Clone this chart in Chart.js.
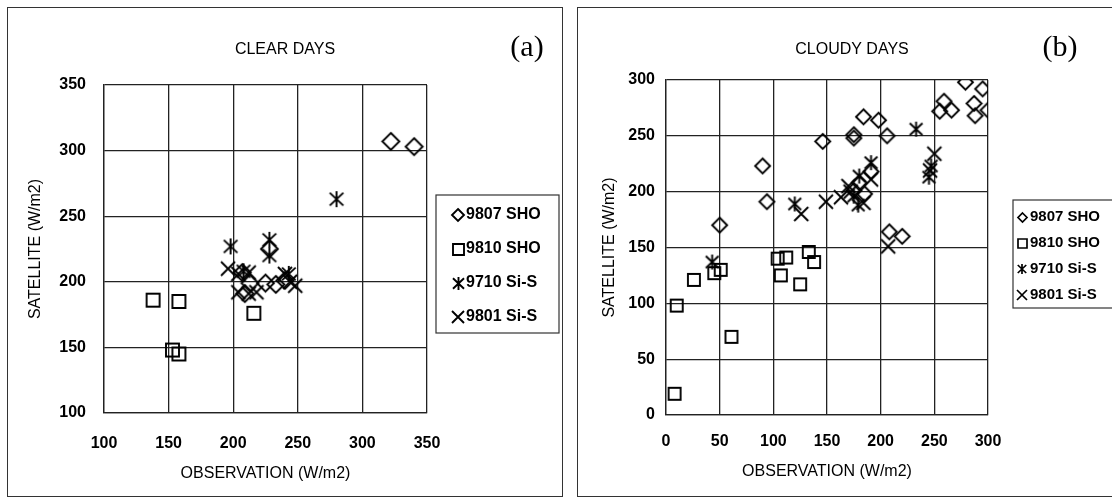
<!DOCTYPE html>
<html>
<head>
<meta charset="utf-8">
<script src="https://cdn.jsdelivr.net/npm/chart.js@4.4.1/dist/chart.umd.min.js"></script>
<style>
  html, body { margin: 0; padding: 0; background: #fff; width: 1112px; height: 499px; overflow: hidden; }
  .panel { position: absolute; top: 7px; height: 490px; border: 1px solid #333; box-sizing: border-box; }
  #panelA { left: 7px; width: 556px; }
  #panelB { left: 577px; width: 545px; }
  canvas { position: absolute; left: 0; top: 0; }
</style>
</head>
<body>
<div class="panel" id="panelA"><canvas id="chartA" width="554" height="488"></canvas></div>
<div class="panel" id="panelB"><canvas id="chartB" width="543" height="488"></canvas></div>
<script>
// Series names (legend)
const seriesNames = ['9807 SHO', '9810 SHO', '9710 Si-S', '9801 Si-S'];

// (a) clear days  [observation, satellite]
const clear9807 = [[322, 307], [340, 303], [228, 225], [207, 207], [209, 191], [213, 199], [225, 199], [233, 198], [240, 201]];
const clear9810 = [[138, 186], [158, 185], [153, 148], [158, 145], [216, 176]];
const clear9710 = [[198, 227], [228, 232], [228, 220], [280, 263], [243, 206], [208, 208]];
const clear9801 = [[196, 210], [204, 206], [212, 207], [204, 192], [212, 191], [218, 192], [240, 206], [244, 200], [248, 197]];
const clearTicks = [100, 150, 200, 250, 300, 350];

// (b) cloudy days
const cloudy9807 = [[279, 298], [295, 292], [300, 273], [287, 279], [288, 268], [259, 281], [255, 272], [266, 273],
  [198, 264], [184, 267], [175, 251], [175, 248], [206, 250], [146, 245], [90, 223], [94, 191], [50, 170],
  [208, 164], [220, 160], [191, 218], [185, 198], [175, 201], [180, 208]];
const cloudy9810 = [[8, 19], [10, 98], [26, 121], [45, 127], [51, 130], [61, 70], [104, 140], [112, 141],
  [107, 125], [133, 146], [138, 137], [125, 117]];
const cloudy9710 = [[43, 137], [120, 189], [233, 256], [245, 213], [247, 223], [191, 226], [180, 214], [179, 188], [175, 196]];
const cloudy9801 = [[126, 180], [149, 191], [163, 195], [250, 234], [246, 219], [170, 205], [184, 190], [191, 211], [207, 151], [172, 200]];
const cloudyTicks = [0, 50, 100, 150, 200, 250, 300];

const FONT = '"Liberation Sans", Arial, sans-serif';
const GRID = '#222';

// hollow marker drawn on a small canvas, used as pointStyle
function makeMark(type, size, lw) {
    const n = size + 4;
    const c = document.createElement('canvas');
    c.width = n; c.height = n;
    const g = c.getContext('2d');
    const m = n / 2, h = size / 2;
    g.strokeStyle = '#000';
    g.lineWidth = lw;
    g.beginPath();
    if (type === 'diamond') {
        g.moveTo(m, m - h); g.lineTo(m + h, m); g.lineTo(m, m + h); g.lineTo(m - h, m); g.closePath();
    } else if (type === 'square') {
        g.rect(m - h, m - h, size, size);
    } else if (type === 'x') {
        g.moveTo(m - h, m - h); g.lineTo(m + h, m + h);
        g.moveTo(m + h, m - h); g.lineTo(m - h, m + h);
    } else {
        g.moveTo(m, m - h); g.lineTo(m, m + h);
        g.moveTo(m - h * 0.85, m - h * 0.8); g.lineTo(m + h * 0.85, m + h * 0.8);
        g.moveTo(m + h * 0.85, m - h * 0.8); g.lineTo(m - h * 0.85, m + h * 0.8);
    }
    g.stroke();
    return c;
}

const markTypes = ['diamond', 'square', 'star', 'x'];

// title, (a)/(b) tag and boxed legend
const decorPlugin = {
    id: 'decor',
    afterDraw(chart, args, o) {
        const ctx = chart.ctx;
        ctx.save();
        ctx.fillStyle = '#000';
        ctx.textAlign = 'center';
        ctx.textBaseline = 'middle';
        ctx.font = '16px ' + FONT;
        ctx.fillText(o.title, o.titleX, o.titleY);
        ctx.font = '30px "Liberation Serif", "Times New Roman", serif';
        ctx.fillText(o.tag, o.tagX, o.tagY);

        ctx.strokeStyle = '#333';
        ctx.lineWidth = 1.2;
        ctx.strokeRect(o.box[0], o.box[1], o.box[2], o.box[3]);
        ctx.textAlign = 'left';
        ctx.font = 'bold ' + o.legendFont + 'px ' + FONT;
        seriesNames.forEach((name, i) => {
            const y = o.legendY + i * o.legendStep;
            const mk = o.marks[i];
            ctx.drawImage(mk, Math.round(o.markX - mk.width / 2), Math.round(y - mk.height / 2));
            ctx.fillText(name, o.textX, y);
        });
        ctx.restore();
    }
};

function axis(ticks, title, cfg, horizontal) {
    return {
        type: 'linear',
        position: horizontal ? 'bottom' : 'left',
        min: ticks[0],
        max: ticks[ticks.length - 1],
        afterBuildTicks: s => { s.ticks = ticks.map(v => ({ value: v })); },
        afterFit: s => { if (horizontal) s.height = cfg.size; else s.width = cfg.size; },
        ticks: { padding: cfg.tickPad, color: '#000', font: { family: FONT, size: 16, weight: 'bold' } },
        grid: { color: GRID, lineWidth: 1.3, drawTicks: false },
        border: { color: GRID, width: 1.3 },
        title: {
            display: true, text: title, color: '#000',
            font: { family: FONT, size: 16 },
            padding: { top: cfg.titlePad, bottom: 0 }
        }
    };
}

function toPoints(pairs) {
    return pairs.map(p => ({ x: p[0], y: p[1] }));
}

function buildChart(id, series, ticks, sizes, layout, decor) {
    const marks = markTypes.map((t, i) => makeMark(t, sizes[i], 1.9));
    new Chart(document.getElementById(id), {
        type: 'scatter',
        data: {
            datasets: series.map((s, i) => ({
                label: seriesNames[i],
                data: toPoints(s),
                pointStyle: marks[i],
                pointRadius: sizes[i] / 2,
                borderColor: '#000',
                backgroundColor: 'rgba(0,0,0,0)'
            }))
        },
        options: {
            responsive: false,
            animation: false,
            layout: { padding: layout.padding },
            scales: {
                x: axis(ticks, 'OBSERVATION (W/m2)', layout.x, true),
                y: axis(ticks, 'SATELLITE (W/m2)', layout.y, false)
            },
            plugins: {
                legend: { display: false },
                tooltip: { enabled: false },
                decor: decor
            }
        },
        plugins: [decorPlugin]
    });
}

// (a)
buildChart('chartA', [clear9807, clear9810, clear9710, clear9801], clearTicks, [17, 13, 16, 14], {
    padding: { left: 17, right: 135, top: 77, bottom: 13 },
    x: { size: 70, tickPad: 21, titlePad: 0 },
    y: { size: 79, tickPad: 18, titlePad: 1 }
}, {
    title: 'CLEAR DAYS', titleX: 277, titleY: 42,
    tag: '(a)', tagX: 519, tagY: 40,
    box: [428, 187, 123, 138],
    legendY: 207, legendStep: 34, legendFont: 16,
    markX: 450, textX: 458,
    marks: markTypes.map((t, i) => makeMark(t, [12, 11, 13, 12][i], 1.9))
});

// (b)
buildChart('chartB', [cloudy9807, cloudy9810, cloudy9710, cloudy9801], cloudyTicks, [15, 12, 15, 14], {
    padding: { left: 14, right: 133, top: 72, bottom: 15 },
    x: { size: 66, tickPad: 17, titlePad: 0 },
    y: { size: 74, tickPad: 11, titlePad: 8 }
}, {
    title: 'CLOUDY DAYS', titleX: 274, titleY: 42,
    tag: '(b)', tagX: 482, tagY: 40,
    box: [435, 192, 120, 108],
    legendY: 209, legendStep: 26, legendFont: 15,
    markX: 444, textX: 452,
    marks: markTypes.map((t, i) => makeMark(t, [9, 9, 10, 10][i], 1.7))
});
</script>
</body>
</html>
